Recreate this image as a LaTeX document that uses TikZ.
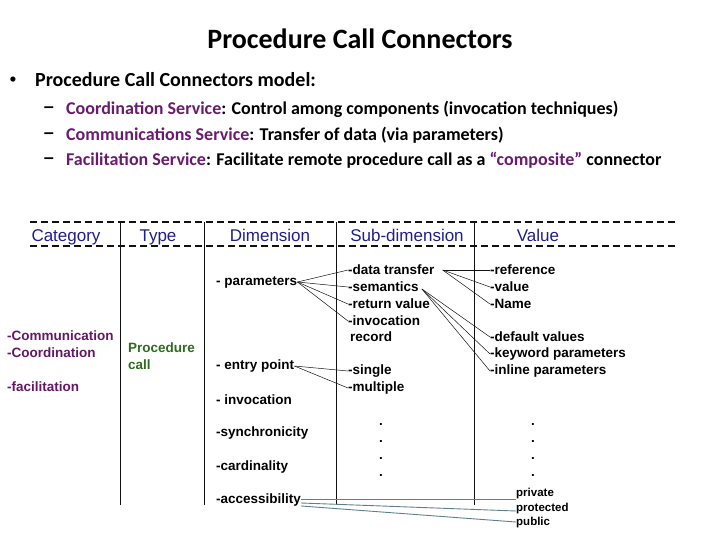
\documentclass[tikz,border=0pt]{standalone}
\usepackage{fontspec}
\setmainfont{Carlito}
\newfontfamily\arialfont{Liberation Sans}
\usetikzlibrary{positioning,calc}
\definecolor{cink}{HTML}{111111}
\definecolor{cpurple}{HTML}{6A1B6E}
\definecolor{ccat}{HTML}{651766}
\definecolor{ctype}{HTML}{2E6B1E}
\definecolor{chead}{HTML}{1E1E8C}
\definecolor{cacc}{HTML}{5F7F8F}
\begin{document}
\begin{tikzpicture}[x=1pt,y=-1pt,
  ttl/.style={font=\bfseries\fontsize{28}{32}\selectfont,inner sep=0pt,anchor=base},
  lead/.style={font=\bfseries\fontsize{20}{24}\selectfont,inner sep=0pt,anchor=base west},
  subtxt/.style={font=\bfseries\fontsize{18}{21}\selectfont,inner sep=0pt,anchor=base west},
  bulletmark/.style={font=\arialfont\bfseries\fontsize{18}{21}\selectfont,inner sep=0pt},
  hdr/.style={font=\arialfont\fontsize{17}{19}\selectfont,text=chead,inner sep=0pt,anchor=base},
  tbl/.style={font=\arialfont\bfseries\fontsize{13.5}{15}\selectfont,inner sep=0pt,anchor=west},
  small/.style={font=\arialfont\bfseries\fontsize{11.5}{13}\selectfont,inner sep=0pt,anchor=west},
  dashrule/.style={cink,line width=2.2pt,dash pattern=on 7pt off 4pt},
  grid/.style={cink,line width=0.9pt},
  link/.style={cink,line width=0.5pt},
  acclink/.style={cacc,line width=0.9pt}]
\useasboundingbox (0,0) rectangle (720,540);
% heading and bullets
\node[ttl] (title) at (360,49) {Procedure Call Connectors};
\node[bulletmark] (b0) at (13,81) {•};
\node[lead] (m0) at (35,87) {Procedure Call Connectors model:};
\node[bulletmark] (d1) at (49,110) {–};
\node[subtxt] (s1) at (66,115) {\textcolor{cpurple}{Coordination Service}: Control among components (invocation techniques)};
\node[bulletmark] (d2) at (49,136) {–};
\node[subtxt] (s2) at (66,141) {\textcolor{cpurple}{Communications Service}: Transfer of data (via parameters)};
\node[bulletmark] (d3) at (49,161) {–};
\node[subtxt] (s3) at (66,166) {\textcolor{cpurple}{Facilitation Service}: Facilitate remote procedure call as a \textcolor{cpurple}{“composite”} connector};
% table frame
\draw[dashrule] (30,222) -- (678,222);
\draw[dashrule] (30,246) -- (678,246);
\foreach \x in {120,204,336,474}
  \draw[grid] (\x,222) -- (\x,505);
\node[hdr] (hcat) at (66,241) {Category};
\node[hdr] (htyp) at (158,241) {Type};
\node[hdr] (hdim) at (270,241) {Dimension};
\node[hdr] (hsub) at (407,241) {Sub-dimension};
\node[hdr] (hval) at (538,241) {Value};
% category / type
\node[tbl,text=ccat] (cat1) at (7,336) {-Communication};
\node[tbl,text=ccat] (cat2) at (7,353) {-Coordination};
\node[tbl,text=ccat] (cat3) at (7,387) {-facilitation};
\node[tbl,text=ctype] (typ1) at (128,348) {Procedure};
\node[tbl,text=ctype] (typ2) at (128,365) {call};
% dimensions
\node[tbl] (dim1) at (216,282) {- parameters};
\node[tbl] (dim2) at (216,366) {- entry point};
\node[tbl] (dim3) at (216,400) {- invocation};
\node[tbl] (dim4) at (216,433) {-synchronicity};
\node[tbl] (dim5) at (216,467) {-cardinality};
\node[tbl] (dim6) at (216,500) {-accessibility};
% sub-dimensions
\node[tbl] (sub1) at (348,270) {-data transfer};
\node[tbl] (sub2) at (348,287) {-semantics};
\node[tbl] (sub3) at (348,304) {-return value};
\node[tbl] (sub4) at (348,321) {-invocation};
\node[tbl] (sub4b) at (350,337) {record};
\node[tbl] (sub5) at (348,371) {-single};
\node[tbl] (sub6) at (348,388) {-multiple};
% values
\node[tbl] (val1) at (490,270) {-reference};
\node[tbl] (val2) at (490,287) {-value};
\node[tbl] (val3) at (490,304) {-Name};
\node[tbl] (val4) at (490,337) {-default values};
\node[tbl] (val5) at (490,354) {-keyword parameters};
\node[tbl] (val6) at (490,371) {-inline parameters};
\node[small] (acc1) at (516,494) {private};
\node[small] (acc2) at (516,509) {protected};
\node[small] (acc3) at (516,523) {public};
\foreach \y [count=\i] in {424,441,458,475} {
  \node[tbl] (dl\i) at (379,\y) {.};
  \node[tbl] (dr\i) at (531,\y) {.};
}
% connectors
\foreach \t in {sub1,sub2,sub3,sub4}
  \draw[link] (dim1.east) -- (\t.west);
\foreach \t in {sub5,sub6}
  \draw[link] (dim2.east) -- (\t.west);
\foreach \t in {val1,val2,val3}
  \draw[link] ([xshift=8pt]sub1.east) -- (\t.west);
\foreach \t in {val4,val5,val6}
  \draw[link] ([xshift=3pt,yshift=-2pt]sub2.east) -- (\t.west);
\draw[acclink] ([yshift=1pt]dim6.east) -- ([yshift=-5pt]acc1.west);
\draw[acclink] ([yshift=-3pt]dim6.east) -- ([yshift=-2pt]acc2.west);
\draw[acclink] ([yshift=-6pt]dim6.east) -- ([yshift=1pt]acc3.west);
\end{tikzpicture}
\end{document}
